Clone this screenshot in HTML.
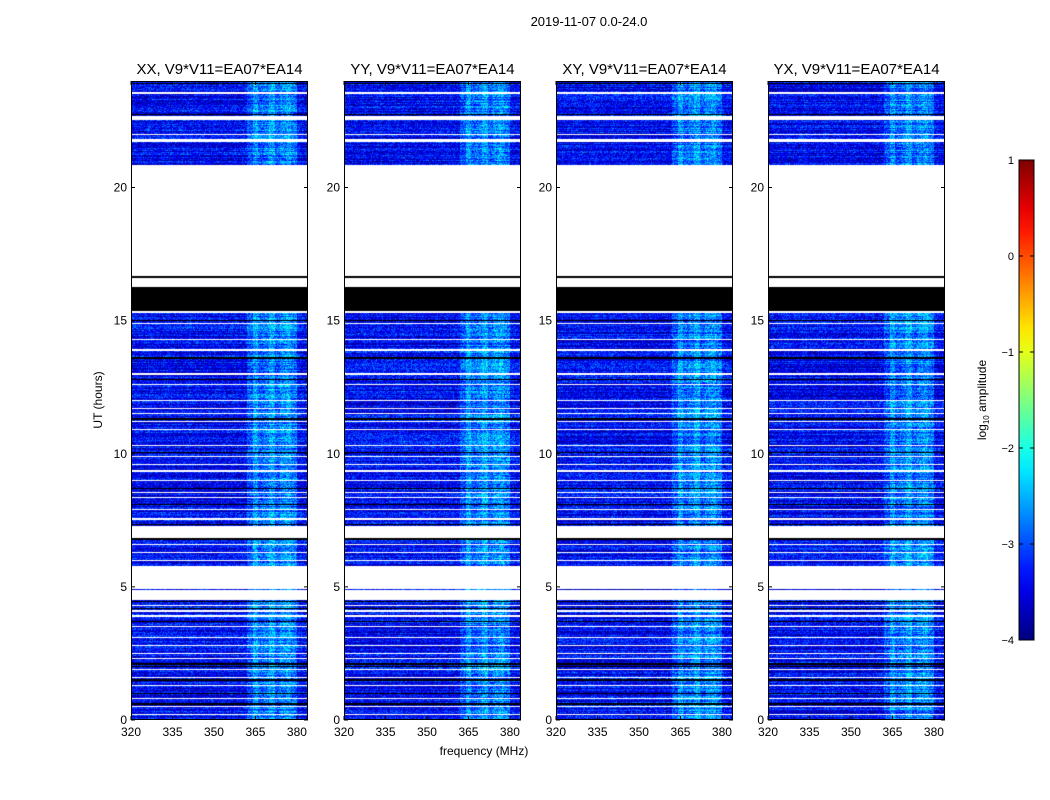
<!DOCTYPE html>
<html><head><meta charset="utf-8">
<style>
body{margin:0;background:#fff;font-family:"Liberation Sans",sans-serif;}
#wrap{position:relative;width:1050px;height:800px;overflow:hidden;}
canvas{position:absolute;}
</style></head>
<body>
<div id="wrap">
<svg id="svg" width="1050" height="800" style="position:absolute;left:0;top:0"></svg>
</div>
<script>
// ---- data ----
const panelTitles = ["XX, V9*V11=EA07*EA14","YY, V9*V11=EA07*EA14","XY, V9*V11=EA07*EA14","YX, V9*V11=EA07*EA14"];
const xTicks = [320,335,350,365,380];
const yTicks = [0,5,10,15,20];
const cbTicks = [1,0,-1,-2,-3,-4];
// frequency profile (log10 amplitude), 2 MHz bins from 320 to 384
const freqProfile = [-3.4,-3.4,-3.4,-3.35,-3.4,-3.4,-3.35,-3.4,-3.4,-3.4,-3.35,-3.4,-3.4,-3.4,-3.4,-3.4,-3.4,-3.4,-3.4,-3.4,-3.4,-3.0,-2.6,-2.9,-2.8,-2.55,-2.9,-2.7,-2.6,-2.8,-3.35,-3.4];
// masked (white) intervals in hours
const whiteGaps = [[22.55,22.7],[21.7,21.82],[16.25,20.85],[15.3,15.35],[6.85,7.3],[4.5,4.88],[4.92,5.8]];
// flagged (black) intervals
const blackGaps = [[15.35,16.25],[16.6,16.67]];
const whiteLines = [23.55,22.0,14.9,14.3,13.9,13.0,12.6,12.0,11.7,11.5,11.2,10.9,10.3,9.9,9.6,9.35,9.0,8.55,8.35,7.9,7.55,6.6,6.3,6.0,4.3,4.1,3.9,3.5,3.1,2.8,2.5,2.3,1.9,1.6,1.3,0.8,0.5,0.2];
const blackLines = [23.9,22.75,15.0,13.6,12.8,11.3,10.05,8.7,8.1,7.35,6.8,4.45,4.2,3.7,2.1,2.0,1.5,1.0,0.6];

// ---- layout ----
const NS="http://www.w3.org/2000/svg";
const svg=document.getElementById('svg');
const panelX=[131,344,556,768], PW=177, PT=81, PB=720;
const xScale=(f,px)=>px+(f-320)/64*PW;
const yScale=h=>PB-(h/24)*(PB-PT);
function jet(v){
  const r=Math.min(Math.max(1.5-Math.abs(4*v-3),0),1);
  const g=Math.min(Math.max(1.5-Math.abs(4*v-2),0),1);
  const b=Math.min(Math.max(1.5-Math.abs(4*v-1),0),1);
  return [r*255|0,g*255|0,b*255|0];
}
function hash(a,b,c){let h=(a*374761393+b*668265263+c*2147483647)|0;h=(h^(h>>>13))*1274126177|0;return ((h^(h>>>16))>>>0)/4294967296;}
function mk(tag,attrs,name,txt){const e=document.createElementNS(NS,tag);for(const k in attrs)e.setAttribute(k,attrs[k]);
  
  
  if(txt!==undefined)e.textContent=txt;svg.appendChild(e);return e;}
const inAny=(h,arr)=>arr.some(g=>h>=g[0]&&h<g[1]);
const nearAny=(h,arr,w)=>arr.some(l=>Math.abs(h-l)<w);

const wrap=document.getElementById('wrap');
panelX.forEach((px,pi)=>{
  const cv=document.createElement('canvas');
  cv.width=PW;cv.height=PB-PT;cv.style.left=px+'px';cv.style.top=PT+'px';
  
  
  wrap.insertBefore(cv,svg);
  const ctx=cv.getContext('2d');const img=ctx.createImageData(PW,PB-PT);
  for(let y=0;y<PB-PT;y++){
    const h=24*(1-(y+0.5)/(PB-PT));
    const black=inAny(h,blackGaps)||nearAny(h,blackLines,0.025);
    const white=!black&&(inAny(h,whiteGaps)||nearAny(h,whiteLines,0.025));
    const rowOff=(hash(Math.floor(h*30),7,pi)-0.5)*0.6;
    for(let x=0;x<PW;x++){
      const f=320+(x+0.5)/PW*64;
      let col;
      if(black)col=[0,0,0];
      else if(white)col=[255,255,255];
      else{
        const bin=Math.min(freqProfile.length-1,Math.floor((f-320)/2));
        const v=freqProfile[bin]+rowOff+(hash(x,y,pi+3)-0.5)*1.0;
        col=jet(Math.min(Math.max((v+4)/5,0),1));
      }
      const i=(y*PW+x)*4;img.data[i]=col[0];img.data[i+1]=col[1];img.data[i+2]=col[2];img.data[i+3]=255;
    }
  }
  ctx.putImageData(img,0,0);
  mk('rect',{x:px+0.5,y:PT+0.5,width:PW-1,height:PB-PT-1,fill:'none',stroke:'#000','stroke-width':1},'panel-frame-'+pi);
  mk('text',{x:px+PW/2,y:74,'text-anchor':'middle','font-size':15,fill:'#000'},'panel-title-'+pi,panelTitles[pi]);
  xTicks.forEach(t=>{const x=xScale(t,px);
    mk('line',{x1:x,x2:x,y1:PB,y2:PB-4,stroke:'#000'},'x-tick');
    mk('line',{x1:x,x2:x,y1:PT,y2:PT+4,stroke:'#000'},'x-tick-top');
    mk('text',{x:x,y:736,'text-anchor':'middle','font-size':12},'x-tick-label',String(t));});
  yTicks.forEach(t=>{const y=yScale(t);
    mk('line',{x1:px,x2:px+4,y1:y,y2:y,stroke:'#000'},'y-tick');
    mk('line',{x1:px+PW-4,x2:px+PW,y1:y,y2:y,stroke:'#000'},'y-tick-right');
    mk('text',{x:px-4,y:y+4,'text-anchor':'end','font-size':12},'y-tick-label',String(t));});
});
mk('text',{x:589,y:26,'text-anchor':'middle','font-size':13},'suptitle','2019-11-07 0.0-24.0');
mk('text',{x:484,y:755,'text-anchor':'middle','font-size':12},'x-axis-title','frequency (MHz)');
mk('text',{x:102,y:400,'text-anchor':'middle','font-size':12,transform:'rotate(-90 102 400)'},'y-axis-title','UT (hours)');
// colorbar
const CX=1019,CW=15,CT=160,CB=640;
const defs=mk('defs',{},'defs');
const lg=document.createElementNS(NS,'linearGradient');lg.setAttribute('id','jet');lg.setAttribute('x1','0');lg.setAttribute('y1','1');lg.setAttribute('x2','0');lg.setAttribute('y2','0');
for(let i=0;i<=20;i++){const c=jet(i/20);const s=document.createElementNS(NS,'stop');s.setAttribute('offset',i/20);s.setAttribute('stop-color',`rgb(${c})`);lg.appendChild(s);}
defs.appendChild(lg);
mk('rect',{x:CX,y:CT,width:CW,height:CB-CT,fill:'url(#jet)',stroke:'#000','stroke-width':1},'colorbar');
const cbScale=v=>CB-(v+4)/5*(CB-CT);
cbTicks.forEach(t=>{const y=cbScale(t);
  mk('line',{x1:CX,x2:CX+4,y1:y,y2:y,stroke:'#000'},'cb-tick');
  mk('line',{x1:CX+CW-4,x2:CX+CW,y1:y,y2:y,stroke:'#000'},'cb-tick-right');
  mk('text',{x:CX-5,y:y+4,'text-anchor':'end','font-size':11},'cb-tick-label',t<0?'\u2212'+(-t):String(t));});
const lab=mk('text',{x:986,y:400,'text-anchor':'middle','font-size':12,transform:'rotate(-90 986 400)'},'colorbar-label');
lab.innerHTML='log<tspan font-size="8" dy="3">10</tspan><tspan dy="-3"> amplitude</tspan>';
</script>
</body></html>
